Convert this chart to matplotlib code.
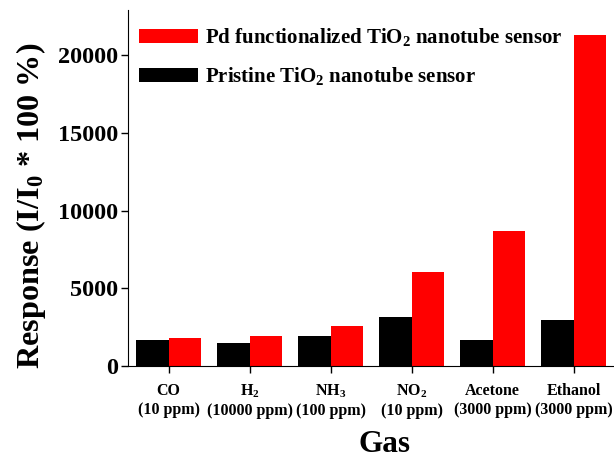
import matplotlib
matplotlib.use("Agg")
import matplotlib.pyplot as plt
import numpy as np

plt.rcParams['font.family'] = ['Liberation Serif', 'DejaVu Serif']
plt.rcParams['font.weight'] = 'bold'
plt.rcParams['mathtext.fontset'] = 'custom'
plt.rcParams['mathtext.rm'] = 'Liberation Serif:bold'
plt.rcParams['mathtext.bf'] = 'Liberation Serif:bold'
plt.rcParams['mathtext.it'] = 'Liberation Serif:bold'

categories = ["CO\n(10 ppm)", "H$_\\mathregular{2}$\n(10000 ppm)", "NH$_\\mathregular{3}$\n(100 ppm)",
              "NO$_\\mathregular{2}$\n(10 ppm)", "Acetone\n(3000 ppm)", "Ethanol\n(3000 ppm)"]
pristine = [1670, 1510, 1930, 3150, 1670, 2960]
pd_func = [1800, 1930, 2570, 6050, 8680, 21300]
yticks = [0, 5000, 10000, 15000, 20000]

fig = plt.figure(figsize=(6.14, 4.59), dpi=100)
ax = fig.add_axes([0.2085, 0.2026, 0.7915, 0.7754])
x = np.arange(len(categories))
w = 0.4
ax.bar(x - w/2, pristine, w, color='black', label='Pristine TiO$_\\mathregular{2}$ nanotube sensor')
ax.bar(x + w/2, pd_func, w, color='#ff0000', label='Pd functionalized TiO$_\\mathregular{2}$ nanotube sensor')
ax.set_xlim(-0.5, 5.5)
ax.set_ylim(0, 22900)
ax.set_xticks(x)
ax.set_xticklabels(categories, fontsize=11.5, fontweight='bold', linespacing=1.25)
ax.set_yticks(yticks)
ax.set_yticklabels([str(v) for v in yticks], fontsize=17.5, fontweight='bold')
ax.spines['top'].set_visible(False)
ax.spines['right'].set_visible(False)
ax.tick_params(axis='both', direction='out', length=5, width=1)
ax.tick_params(axis='x', pad=7)
ax.tick_params(axis='y', pad=2)
ax.set_ylabel('Response (I/I$_\\mathregular{0}$ * 100 %)', fontsize=23.2, fontweight='bold')
ax.yaxis.set_label_coords(-0.165, 0.449)
ax.set_xlabel('Gas', fontsize=22.5, fontweight='bold')
ax.xaxis.set_label_coords((384 - 128) / 486, -0.18)

h, l = ax.get_legend_handles_labels()
ax.legend(h[::-1], l[::-1], loc='upper left', bbox_to_anchor=(-0.017, 1.007), frameon=False,
          prop={'family': 'Liberation Serif', 'weight': 'bold', 'size': 15},
          handlelength=2.85, handleheight=0.7, handletextpad=0.33, labelspacing=0.82)

fig.savefig('out.png', dpi=100)
